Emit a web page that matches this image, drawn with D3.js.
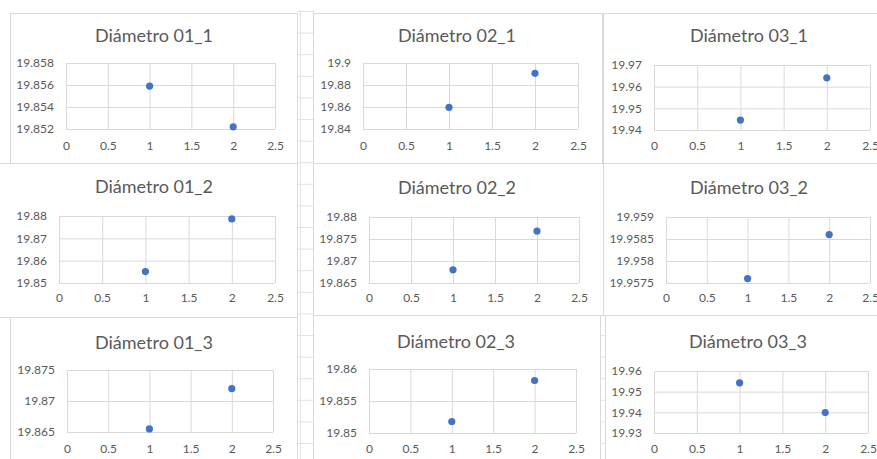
<!DOCTYPE html>
<html>
<head>
<meta charset="utf-8">
<script src="https://cdn.jsdelivr.net/npm/d3@7"></script>
<style>
  html, body { margin: 0; padding: 0; background: #ffffff; }
  svg { display: block; }
  text { font-family: Lato, "Open Sans", sans-serif; fill: #595959; }
</style>
</head>
<body>
<svg id="sheet" width="877" height="459"></svg>
<script>
// Chart titles, one per measurement
const titles = [
  "Diámetro 01_1", "Diámetro 02_1", "Diámetro 03_1",
  "Diámetro 01_2", "Diámetro 02_2", "Diámetro 03_2",
  "Diámetro 01_3", "Diámetro 02_3", "Diámetro 03_3"
];

// Sample numbers (x) shared by every chart
const samples = [1, 2];

// Measured diameters for samples 1 and 2
const diam01_1 = [19.8559, 19.8522];
const diam02_1 = [19.8597, 19.8906];
const diam03_1 = [19.9446, 19.9641];
const diam01_2 = [19.8551, 19.8787];
const diam02_2 = [19.8680, 19.8768];
const diam03_2 = [19.9576, 19.9586];
const diam01_3 = [19.8655, 19.8720];
const diam02_3 = [19.8518, 19.8582];
const diam03_3 = [19.9543, 19.9399];
const seriesValues = [diam01_1, diam02_1, diam03_1, diam01_2, diam02_2, diam03_2, diam01_3, diam02_3, diam03_3];

// Y axis tick labels for each chart
const yTicks01_1 = [19.852, 19.854, 19.856, 19.858];
const yTicks02_1 = [19.84, 19.86, 19.88, 19.9];
const yTicks03_1 = [19.94, 19.95, 19.96, 19.97];
const yTicks01_2 = [19.85, 19.86, 19.87, 19.88];
const yTicks02_2 = [19.865, 19.87, 19.875, 19.88];
const yTicks03_2 = [19.9575, 19.958, 19.9585, 19.959];
const yTicks01_3 = [19.865, 19.87, 19.875];
const yTicks02_3 = [19.85, 19.855, 19.86];
const yTicks03_3 = [19.93, 19.94, 19.95, 19.96];
const yTickSets = [yTicks01_1, yTicks02_1, yTicks03_1, yTicks01_2, yTicks02_2, yTicks03_2, yTicks01_3, yTicks02_3, yTicks03_3];

// X axis tick labels
const xTicks = [0, 0.5, 1, 1.5, 2, 2.5];

// Layout: chart frame, title centre and plot area of each chart on the sheet
const frames = [
  { fx: 10,  fy: 13,  fw: 287, fh: 150, tx: 154, px: 66,  py: 63,  pw: 209, ph: 66, ty: 42,  xl: 150 },
  { fx: 313, fy: 13,  fw: 289, fh: 150, tx: 457, px: 363, py: 63,  pw: 215, ph: 66, ty: 42,  xl: 150 },
  { fx: 603, fy: 13,  fw: 292, fh: 150, tx: 749, px: 654, py: 65,  pw: 216, ph: 65, ty: 42,  xl: 150 },
  { fx: -2,  fy: 163, fw: 299, fh: 154, tx: 154, px: 59,  py: 216, pw: 216, ph: 67, ty: 193, xl: 302 },
  { fx: 313, fy: 163, fw: 290, fh: 152, tx: 457, px: 369, py: 217, pw: 210, ph: 66, ty: 194, xl: 302 },
  { fx: 603, fy: 163, fw: 292, fh: 152, tx: 749, px: 666, py: 217, pw: 204, ph: 66, ty: 194, xl: 302 },
  { fx: 10,  fy: 317, fw: 287, fh: 150, tx: 154, px: 67,  py: 370, pw: 206, ph: 62, ty: 349, xl: 453 },
  { fx: 313, fy: 315, fw: 287, fh: 150, tx: 456, px: 369, py: 369, pw: 207, ph: 64, ty: 348, xl: 453 },
  { fx: 605, fy: 315, fw: 290, fh: 150, tx: 748, px: 654, py: 371, pw: 214, ph: 62, ty: 348, xl: 453 }
];

const svg = d3.select("#sheet");

// Spreadsheet cell grid showing through the gaps between charts
const sheet = svg.append("g");
d3.range(0, 22).forEach(i => {
  const ry = 11.5 + i * 21.6;
  sheet.append("line")
    .attr("x1", 298).attr("x2", 313)
    .attr("y1", ry).attr("y2", ry)
    .attr("stroke", "#e3e3e3").attr("stroke-width", 1);
  if (ry > 315) {
    sheet.append("line")
      .attr("x1", 598).attr("x2", 605)
      .attr("y1", ry).attr("y2", ry)
      .attr("stroke", "#e3e3e3").attr("stroke-width", 1);
  }
});
[300.5, 313.5].forEach(cx => {
  sheet.append("line")
    .attr("x1", cx).attr("x2", cx).attr("y1", 10).attr("y2", 459)
    .attr("stroke", "#e3e3e3").attr("stroke-width", 1);
});
sheet.append("line")
  .attr("x1", 600.5).attr("x2", 600.5).attr("y1", 315).attr("y2", 459)
  .attr("stroke", "#e3e3e3").attr("stroke-width", 1);

frames.forEach((f, i) => {
  const g = svg.append("g");

  // chart frame
  g.append("rect")
    .attr("x", f.fx + 0.5).attr("y", f.fy + 0.5)
    .attr("width", f.fw).attr("height", f.fh)
    .attr("fill", "#ffffff").attr("stroke", "#d9d9d9");

  // title
  g.append("text")
    .attr("x", f.tx)
    .attr("y", f.ty)
    .attr("text-anchor", "middle")
    .attr("font-size", 18)
    .attr("font-weight", 400)
    .attr("fill", "#5f5f5f")
    .text(titles[i]);

  const ticks = yTickSets[i];
  const x = d3.scaleLinear().domain([0, 2.5]).range([f.px, f.px + f.pw]);
  const y = d3.scaleLinear().domain([ticks[0], ticks[ticks.length - 1]]).range([f.py + f.ph, f.py]);

  // vertical gridlines + x labels
  const xa = g.append("g")
    .attr("transform", `translate(0,${f.py + f.ph})`)
    .call(d3.axisBottom(x).tickValues(xTicks).tickSize(-f.ph).tickPadding(f.xl - (f.py + f.ph) - 9).tickFormat(d => String(d)));
  xa.select(".domain").remove();
  xa.selectAll("line").attr("stroke", "#d9d9d9");
  xa.selectAll("text").attr("font-size", 12).attr("fill", "#595959")
    .attr("font-family", "Lato, 'Open Sans', sans-serif");

  // horizontal gridlines + y labels
  const ya = g.append("g")
    .attr("transform", `translate(${f.px},0)`)
    .call(d3.axisLeft(y).tickValues(ticks).tickSize(-f.pw).tickPadding(12).tickFormat(d => String(d)));
  ya.select(".domain").remove();
  ya.selectAll("line").attr("stroke", "#d9d9d9");
  ya.selectAll("text").attr("font-size", 12).attr("fill", "#595959")
    .attr("font-family", "Lato, 'Open Sans', sans-serif");

  // data points
  g.selectAll("circle.pt")
    .data(samples.map((s, k) => ({ s, v: seriesValues[i][k] })))
    .join("circle")
    .attr("class", "pt")
    .attr("cx", d => x(d.s))
    .attr("cy", d => y(d.v))
    .attr("r", 3.6)
    .attr("fill", "#4472c4");
});
</script>
</body>
</html>
